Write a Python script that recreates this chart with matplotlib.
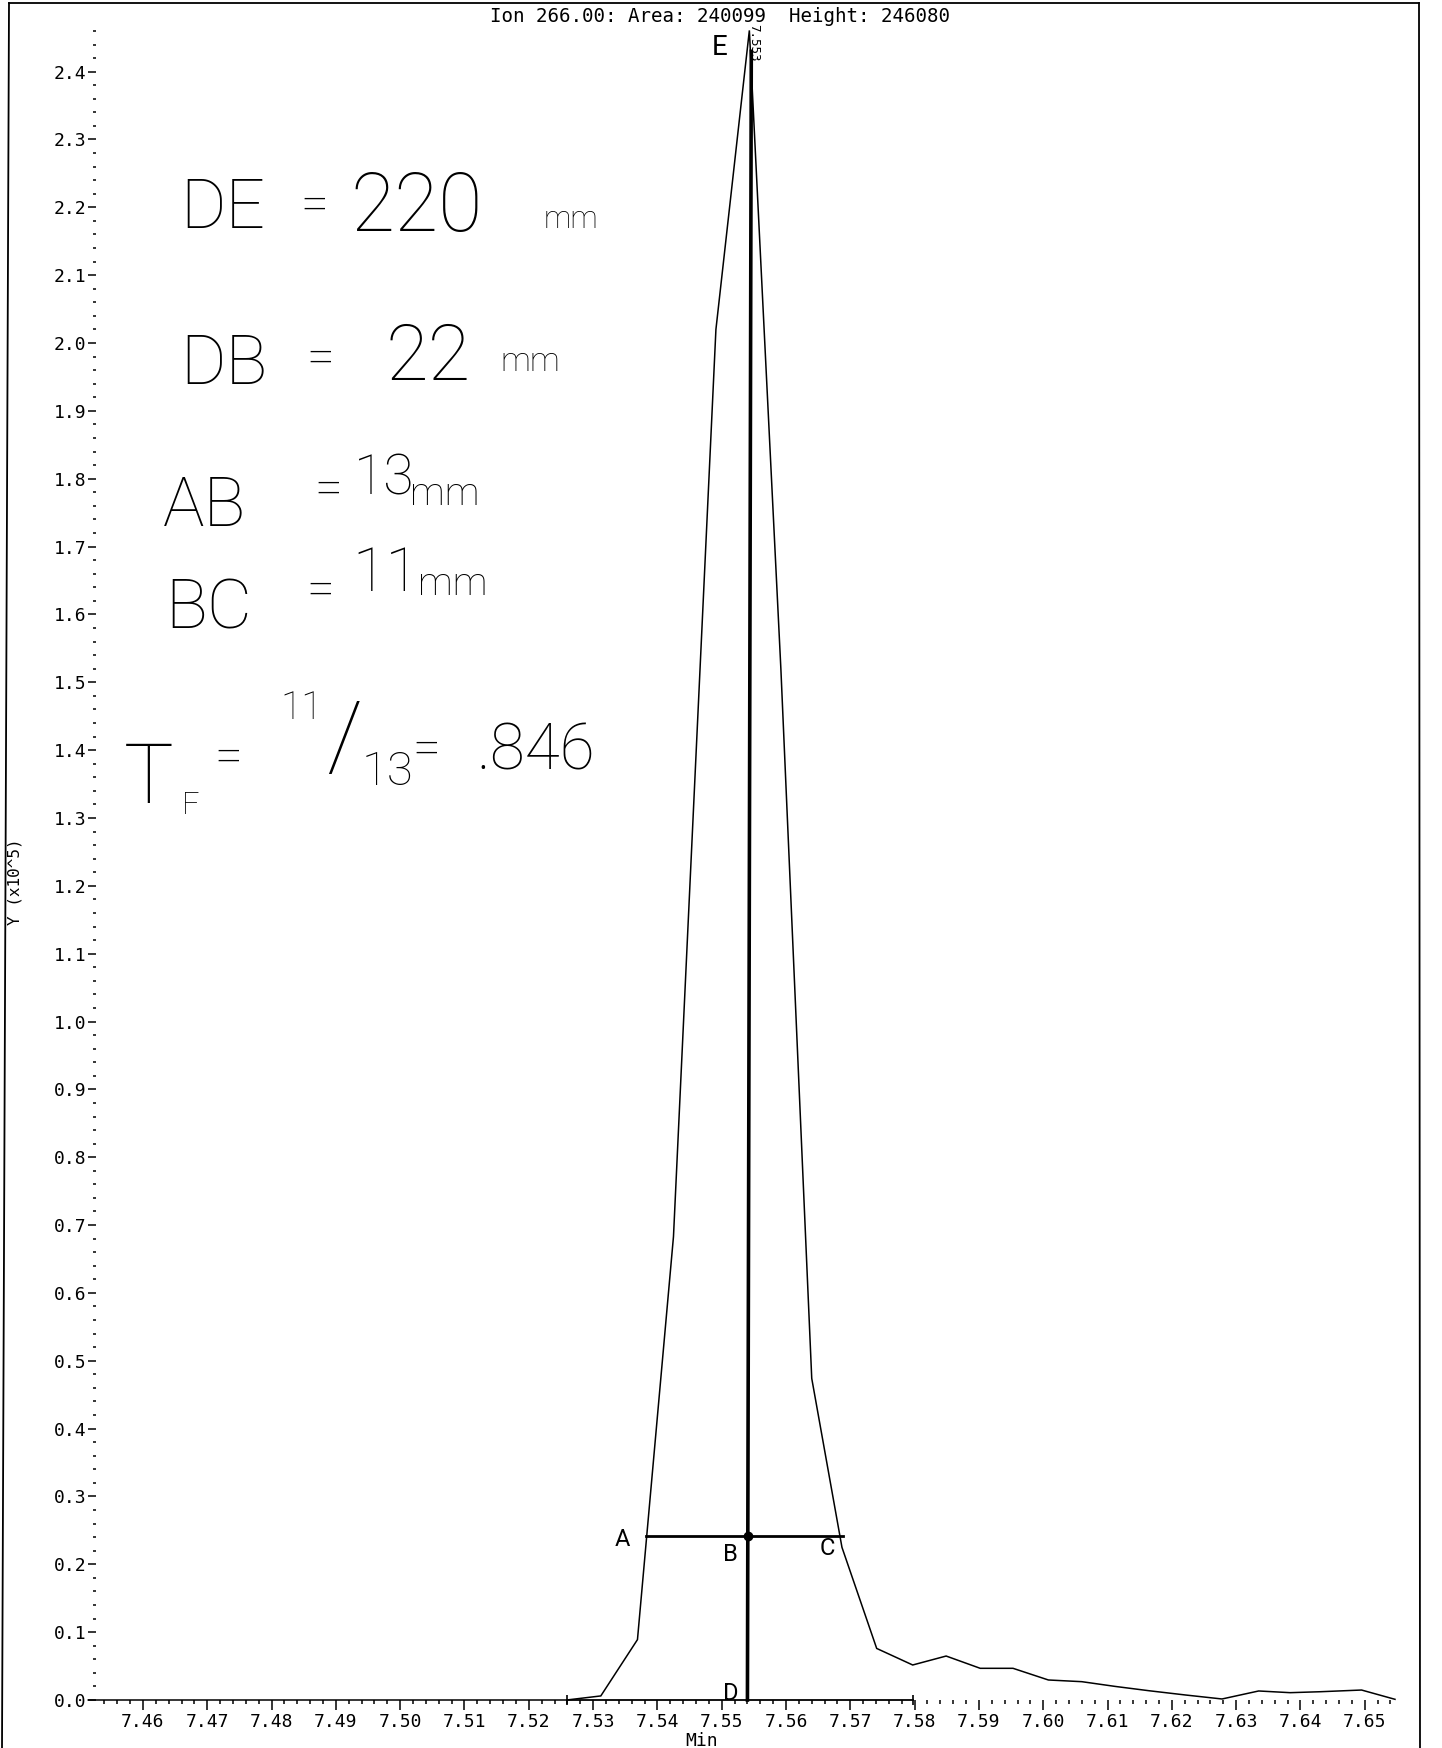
import matplotlib
matplotlib.use("Agg")
import matplotlib.pyplot as plt
from matplotlib.ticker import MultipleLocator, FormatStrFormatter
from matplotlib.lines import Line2D

# ---------------- data ----------------
time_min = [7.4515, 7.4800, 7.5100, 7.5259, 7.5312, 7.5369, 7.5425, 7.5491,
            7.5543, 7.5592, 7.5640, 7.5687, 7.5741, 7.5797, 7.5849, 7.5902,
            7.5953, 7.6008, 7.6060, 7.6112, 7.6165, 7.6221, 7.6278, 7.6335,
            7.6384, 7.6431, 7.6495, 7.6547]
intensity_e5 = [0.0, 0.0, 0.0, 0.0, 0.006, 0.089, 0.683, 2.020,
                2.4608, 1.520, 0.474, 0.225, 0.076, 0.0516, 0.0648, 0.0467,
                0.0467, 0.0295, 0.027, 0.020, 0.0136, 0.0074, 0.0015, 0.0133,
                0.0108, 0.0122, 0.0147, 0.001]

baseline_x = [7.5259, 7.5797]
baseline_y = [0.0, 0.0]

# hand-drawn construction lines
de_x = [7.5540, 7.5546]
de_y = [0.0, 2.43]
ac_x = [7.5383, 7.5688]
ac_y = [0.242, 0.242]
b_point = (7.5541, 0.242)

title = "Ion 266.00: Area: 240099  Height: 246080"
peak_label = "7.553"
x_label = "Min"
y_label = "Y (x10^5)"
x_major = [7.46 + 0.01 * i for i in range(20)]
y_major = [0.1 * i for i in range(25)]

# ---------------- figure ----------------
W, H, DPI = 1442, 1748, 100
fig = plt.figure(figsize=(W / DPI, H / DPI), dpi=DPI)
fig.patch.set_facecolor("white")

def P(x, y):
    return (x / W, 1 - y / H)

ax = fig.add_axes([96 / W, (H - 1700) / H, (1395 - 96) / W, (1700 - 30.4) / H])
ax.set_xlim(7.4527, 7.6547)
ax.set_ylim(0.0, 2.4608)
for s in ax.spines.values():
    s.set_visible(False)

mono = "DejaVu Sans Mono"
ax.xaxis.set_major_locator(plt.FixedLocator(x_major))
ax.xaxis.set_minor_locator(MultipleLocator(0.002))
ax.yaxis.set_major_locator(plt.FixedLocator(y_major))
ax.yaxis.set_minor_locator(MultipleLocator(0.02))
ax.xaxis.set_major_formatter(FormatStrFormatter("%.2f"))
ax.yaxis.set_major_formatter(FormatStrFormatter("%.1f"))
ax.tick_params(axis="x", which="major", direction="out", length=7.5, width=1.1, pad=2, labelsize=13)
ax.tick_params(axis="x", which="minor", direction="out", length=3.0, width=1.1)
ax.tick_params(axis="y", which="major", direction="out", length=5.8, width=1.1, pad=1.2, labelsize=13)
ax.tick_params(axis="y", which="minor", direction="out", length=2.2, width=1.1)
for lab in ax.get_xticklabels() + ax.get_yticklabels():
    lab.set_fontfamily(mono)

# trace
ax.plot(time_min, intensity_e5, color="black", lw=1.1, clip_on=False, solid_joinstyle="miter")
# integration baseline with end markers
ax.plot(baseline_x, baseline_y, color="black", lw=1.3, clip_on=False)
ax.plot(baseline_x, baseline_y, ls="none", marker="|", ms=7, mew=1.2, color="black", clip_on=False)

# hand-drawn lines
ax.plot(de_x, de_y, color="black", lw=2.6, clip_on=False)
ax.plot(ac_x, ac_y, color="black", lw=2.0, clip_on=False)
ax.plot([b_point[0]], [b_point[1]], "o", color="black", ms=6, clip_on=False)

# peak retention label
ax.text(7.5550, 2.415, peak_label, rotation=270, fontsize=9, family=mono,
        ha="center", va="bottom", clip_on=False)

hand = dict(family=["Roboto", "DejaVu Sans"], color="black")
ax.text(7.5345, 0.236, "A", fontsize=17, ha="center", va="center", **hand)
ax.text(7.5513, 0.214, "B", fontsize=17, ha="center", va="center", **hand)
ax.text(7.5664, 0.223, "C", fontsize=17, ha="center", va="center", **hand)
ax.text(7.5514, 0.009, "D", fontsize=17, ha="center", va="center", **hand)
ax.text(7.5496, 2.435, "E", fontsize=20, ha="center", va="center", **hand)

# title & axis labels
fig.text(*P(720, 16), title, family=mono, fontsize=13.8, ha="center", va="center")
fig.text(*P(702, 1741), x_label, family=mono, fontsize=13, ha="center", va="center")
fig.text(*P(15, 882), y_label, family=mono, fontsize=11.5, ha="center", va="center", rotation=90)

# handwritten notes
def note(x, y, s, size, **kw):
    fig.text(*P(x, y), s, fontsize=size, ha="left", va="center",
             fontweight="light", **hand, **kw)

note(180, 209, "DE", 50)
note(300, 206, "=", 36)
note(350, 209, "220", 58)
note(544, 220, "mm", 22)

note(180, 365, "DB", 50)
note(306, 359, "=", 36)
note(386, 359, "22", 56)
note(500, 362, "mm", 24)

note(163, 507, "AB", 50)
note(314, 490, "=", 36)
note(354, 479, "13", 40)
note(410, 494, "mm", 28)

note(165, 610, "BC", 50)
note(306, 591, "=", 36)
note(352, 574, "11", 44)
note(418, 584, "mm", 28)

note(124, 780, "T", 60)
note(182, 806, "F", 22)
note(214, 758, "=", 36)
note(280, 708, "11", 28)
note(326, 742, "/", 68)
note(362, 772, "13", 34)
note(412, 750, "=", 36)
note(476, 752, ".846", 46)

# outer frame of the scanned printout
frame = dict(color="black", lw=1.3, transform=fig.transFigure)
fig.add_artist(Line2D([P(9, 3)[0], P(1419, 3)[0]], [P(9, 3)[1], P(1419, 3)[1]], **frame))
fig.add_artist(Line2D([P(9, 3)[0], P(2, 1748)[0]], [P(9, 3)[1], P(2, 1748)[1]], **frame))
fig.add_artist(Line2D([P(1419, 3)[0], P(1420, 1748)[0]], [P(1419, 3)[1], P(1420, 1748)[1]], **frame))

fig.savefig("out.png", dpi=DPI, facecolor="white")
